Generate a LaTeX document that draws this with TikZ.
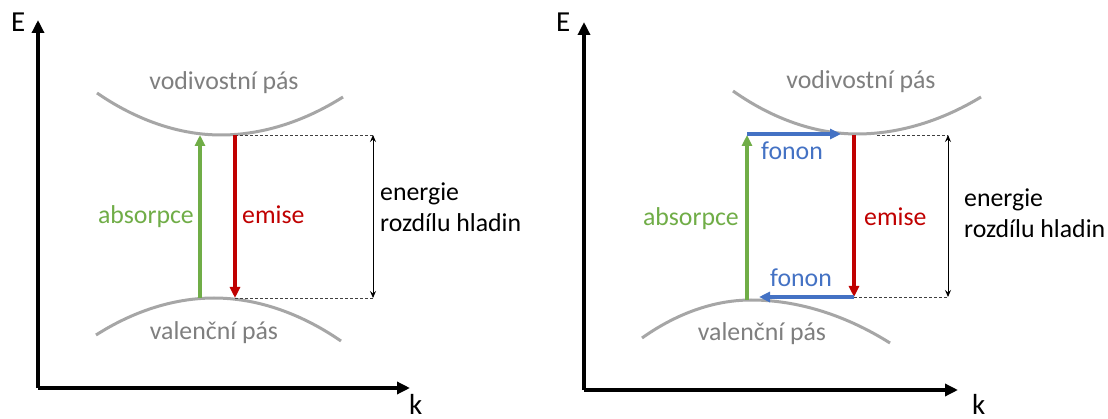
\documentclass[tikz,border=0pt]{standalone}
\usepackage{fontspec}
\setmainfont{Carlito}
\usetikzlibrary{arrows.meta}
\definecolor{bandgray}{HTML}{A6A6A6}
\definecolor{txtgray}{HTML}{7F7F7F}
\definecolor{absgreen}{HTML}{70AD47}
\definecolor{emired}{HTML}{C00000}
\definecolor{fonblue}{HTML}{4472C4}
\tikzset{
  axis/.style={line width=4pt,-{Triangle[length=13pt,width=12pt]}},
  band/.style={line width=3pt,bandgray},
  trans/.style={line width=3.5pt,-{Triangle[length=11pt,width=10pt]}},
  level/.style={line width=0.9pt,dash pattern=on 3pt off 2pt,black!75},
  gap/.style={line width=0.9pt,{Stealth[length=7pt,width=6pt,inset=2.5pt]}-{Stealth[length=7pt,width=6pt,inset=2.5pt]}},
  lbl/.style={inner sep=0pt,font=\fontsize{25.8}{31}\selectfont},
  axlbl/.style={inner sep=0pt,font=\fontsize{29}{35}\selectfont},
}
\begin{document}
\begin{tikzpicture}[x=1pt,y=-1pt]
\useasboundingbox[fill=white] (0,0) rectangle (1108,419);
% ---------- left panel ----------
\coordinate (LO) at (38,388);
\coordinate (LY) at (38,20);
\coordinate (LX) at (410,388);
\draw[axis] (LO) -- (LY);
\draw[axis] (LO) -- (LX);
\node[axlbl,anchor=base west] (LE) at (11,32) {E};
\node[axlbl,anchor=base west] (Lk) at (409,414) {k};
\draw[band] (97,93) parabola bend (221,135) (343,97);
\draw[band] (96,335) parabola bend (214,298) (341,341);
\node[lbl,txtgray] (Lcb) at (224,83) {vodivostní pás};
\node[lbl,txtgray] (Lvb) at (214,333) {valenční pás};
\coordinate (Lg1) at (200,298);
\coordinate (Lg2) at (200,135);
\coordinate (Lr1) at (235,135);
\coordinate (Lr2) at (235,298);
\coordinate (Ld1) at (373,135);
\coordinate (Ld2) at (373,298);
\draw[level] (Lr1) -- (Ld1);
\draw[level] (Lr2) -- (Ld2);
\draw[gap] (Ld1) -- (Ld2);
\draw[trans,absgreen] (Lg1) -- (Lg2);
\draw[trans,emired] (Lr1) -- (Lr2);
\node[lbl,absgreen,anchor=base east] (Labs) at (194,224) {absorpce};
\node[lbl,emired,anchor=base west] (Lemi) at (242,224) {emise};
\node[lbl,anchor=base west] (Len1) at (380,201) {energie};
\node[lbl,anchor=base west] (Len2) at (380,232) {rozdílu hladin};
% ---------- right panel ----------
\coordinate (RO) at (584,390);
\coordinate (RY) at (584,22);
\coordinate (RX) at (958,390);
\draw[axis] (RO) -- (RY);
\draw[axis] (RO) -- (RX);
\node[axlbl,anchor=base west] (RE) at (556,32) {E};
\node[axlbl,anchor=base west] (Rk) at (972,414) {k};
\draw[band] (733,91) parabola bend (857,134) (981,97);
\draw[band] (642,338) parabola bend (751,300) (890,343);
\node[lbl,txtgray] (Rcb) at (861,82) {vodivostní pás};
\node[lbl,txtgray] (Rvb) at (762,334) {valenční pás};
\coordinate (Rg1) at (747,300);
\coordinate (Rg2) at (747,135);
\coordinate (Rb1) at (747,134);
\coordinate (Rb2) at (841,134);
\coordinate (Rr1) at (854,135);
\coordinate (Rr2) at (854,297);
\coordinate (Rb3) at (854,297);
\coordinate (Rb4) at (759,297);
\coordinate (Rl1) at (877,135);
\coordinate (Rd1) at (948,135);
\coordinate (Rd2) at (948,297);
\draw[level] (Rl1) -- (Rd1);
\draw[level] (Rr2) -- (Rd2);
\draw[gap] (Rd1) -- (Rd2);
\draw[trans,absgreen] (Rg1) -- (Rg2);
\draw[trans,fonblue] (Rb1) -- (Rb2);
\draw[trans,emired] (Rr1) -- (Rr2);
\draw[trans,fonblue] (Rb3) -- (Rb4);
\node[lbl,fonblue,anchor=base] (Rf1) at (792,160) {fonon};
\node[lbl,fonblue,anchor=base] (Rf2) at (801,287) {fonon};
\node[lbl,absgreen,anchor=base east] (Rabs) at (739,226) {absorpce};
\node[lbl,emired,anchor=base west] (Remi) at (864,226) {emise};
\node[lbl,anchor=base west] (Ren1) at (964,207) {energie};
\node[lbl,anchor=base west] (Ren2) at (964,238) {rozdílu hladin};
\end{tikzpicture}
\end{document}
